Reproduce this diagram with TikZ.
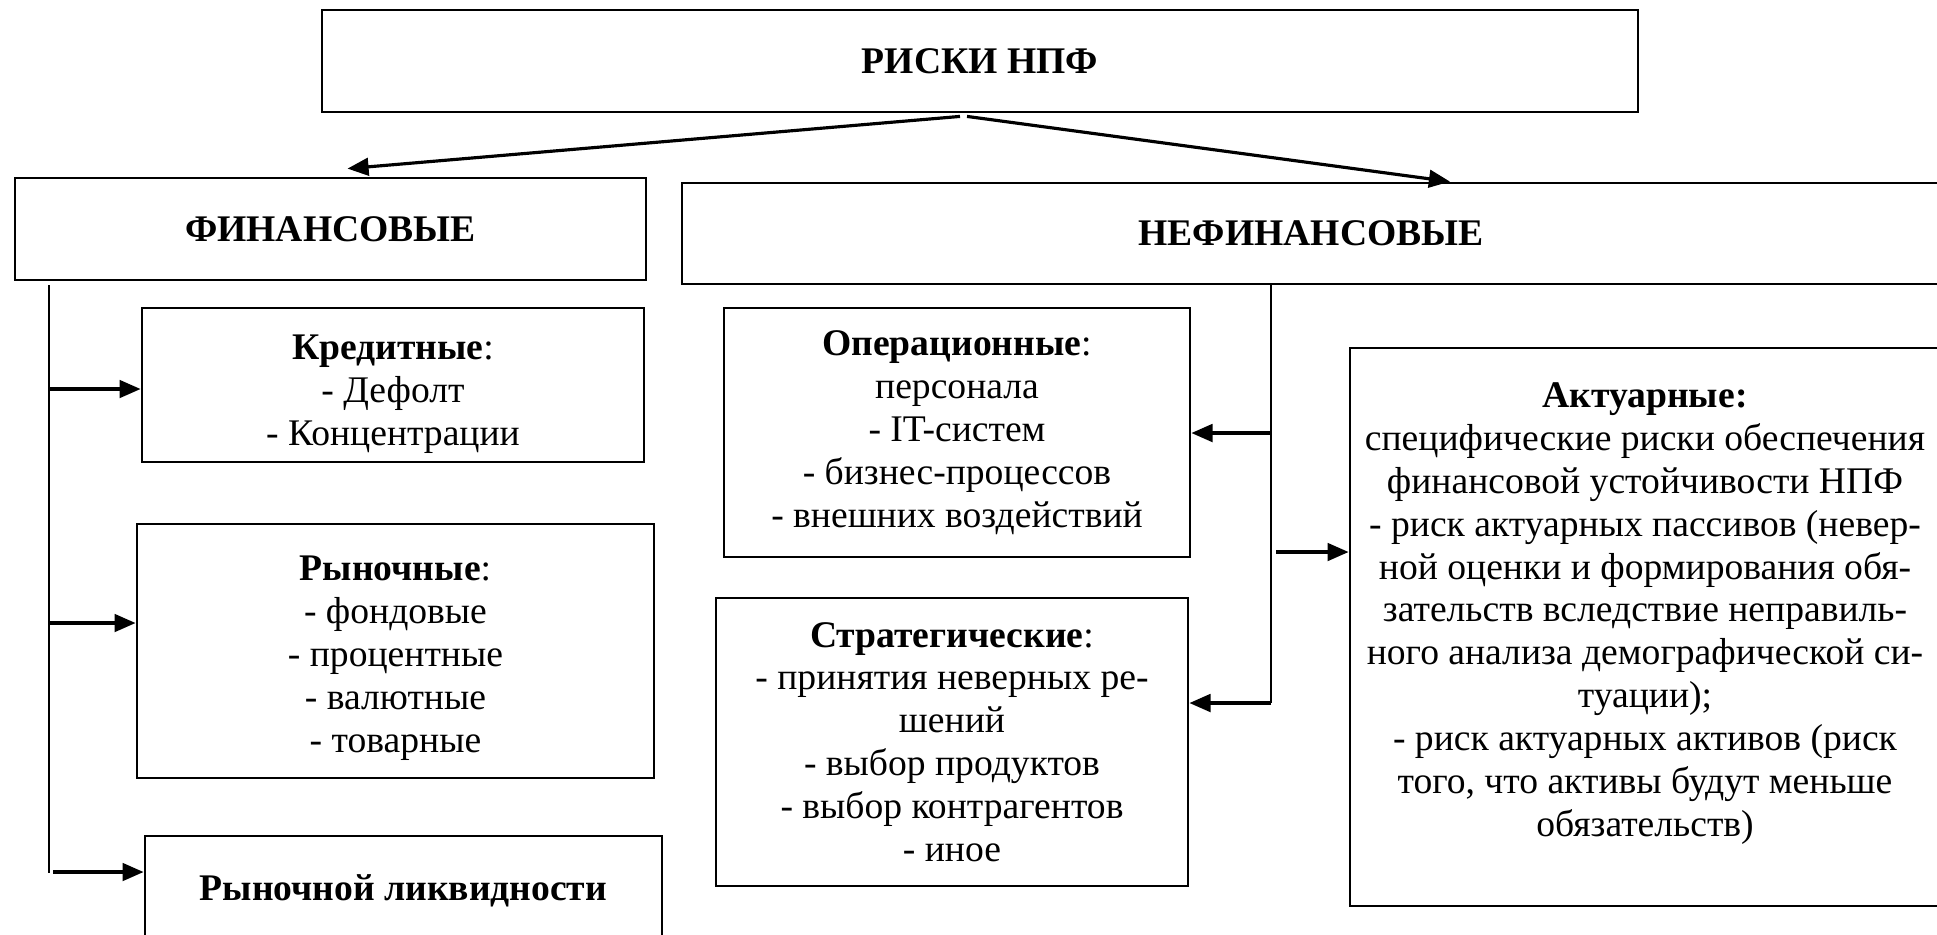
\documentclass[tikz,border=0pt]{standalone}
\usepackage{fontspec}
\setmainfont{Liberation Serif}
\usetikzlibrary{arrows.meta}

\begin{document}
\begin{tikzpicture}[
        box/.style={draw, line width=0.8pt, align=center, inner sep=2pt,
            font=\fontsize{10.7pt}{12.2pt}\selectfont},
        arr/.style={line width=0.9pt, -{Triangle[length=6pt,width=5pt]}},
        vline/.style={line width=0.4pt}]
        \clip (0,0) rectangle (19.37,-9.34);

        \node[box, minimum width=13.16cm, minimum height=1.02cm] (R) at (9.80,-0.61) {\textbf{РИСКИ НПФ}};
        \node[box, minimum width=6.31cm, minimum height=1.02cm] (F) at (3.305,-2.29) {\textbf{ФИНАНСОВЫЕ}};
        \node[box, minimum width=12.58cm, minimum height=1.01cm] (N) at (13.11,-2.335) {\textbf{НЕФИНАНСОВЫЕ}};
        \draw[arr] ([xshift=-0.2cm,yshift=-0.03cm]R.south) -- ([xshift=0.17cm,yshift=0.08cm]F.north);
        \draw[arr] ([xshift=-0.13cm,yshift=-0.03cm]R.south) -- ([xshift=1.39cm]N.north);

        \node[box, minimum width=5.02cm, minimum height=1.54cm, text height=36.8pt] (F1) at (3.93,-3.85)
            {\textbf{Кредитные}:\\- Дефолт\\- Концентрации};
        \node[box, minimum width=5.17cm, minimum height=2.54cm, text height=60pt] (F2) at (3.955,-6.51)
            {\textbf{Рыночные}:\\- фондовые\\- процентные\\- валютные\\- товарные};
        \node[box, minimum width=5.17cm, minimum height=1.10cm] (F3) at (4.035,-8.91)
            {\textbf{Рыночной ликвидности}};
        \coordinate (FT) at (0.49,-2.85);
        \coordinate (FB) at (0.49,-8.73);
        \coordinate (F1a) at (0.49,-3.89);
        \coordinate (F2a) at (0.49,-6.23);
        \coordinate (F3a) at (0.53,-8.72);
        \draw[vline] (FT) -- (FB);
        \draw[arr] (F1a) -- (F1a -| F1.west);
        \draw[arr] (F2a) -- (F2a -| F2.west);
        \draw[arr] (F3a) -- (F3a -| F3.west);

        \node[box, minimum width=4.66cm, minimum height=2.49cm] (N1) at (9.57,-4.325)
            {\textbf{Операционные}:\\персонала\\- IT-систем\\- бизнес-процессов\\- внешних воздействий};
        \node[box, minimum width=4.72cm, minimum height=2.88cm] (N2) at (9.52,-7.42)
            {\textbf{Стратегические}:\\- принятия неверных ре-\\шений\\- выбор продуктов\\- выбор контрагентов\\- иное};
        \node[box, minimum width=5.90cm, minimum height=5.58cm, text depth=0.35cm] (N3) at (16.45,-6.27)
            {\textbf{Актуарные:}\\специфические риски обеспечения\\финансовой устойчивости НПФ\\- риск актуарных пассивов (невер-\\ной оценки и формирования обя-\\зательств вследствие неправиль-\\ного анализа демографической си-\\туации);\\- риск актуарных активов (риск\\того, что активы будут меньше\\обязательств)};
        \coordinate (NT) at (12.71,-2.85);
        \coordinate (NB) at (12.71,-7.03);
        \coordinate (N1a) at (12.71,-4.33);
        \coordinate (N2a) at (12.71,-7.03);
        \coordinate (N3a) at (12.76,-5.52);
        \draw[vline] (NT) -- (NB);
        \draw[arr] (N1a) -- (N1a -| N1.east);
        \draw[arr] (N2a) -- (N2a -| N2.east);
        \draw[arr] (N3a) -- (N3a -| N3.west);
    \end{tikzpicture}
\end{document}
